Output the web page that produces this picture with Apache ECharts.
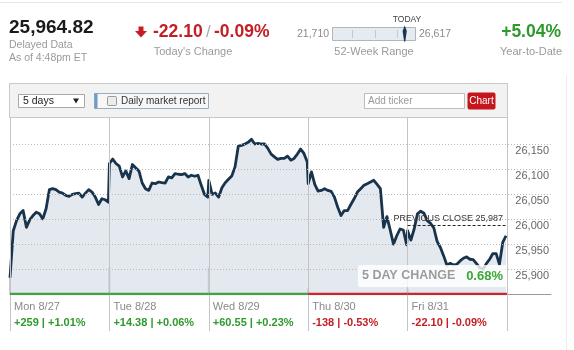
<!DOCTYPE html>
<html><head><meta charset="utf-8">
<script src="https://cdn.jsdelivr.net/npm/echarts@6/dist/echarts.min.js"></script>
<style>html,body{margin:0;padding:0;background:#fff}#c{width:574px;height:350px}</style>
</head><body><div id="c"></div><script>
// ---- data ----
const dayLabels = ['Mon 8/27','Tue 8/28','Wed 8/29','Thu 8/30','Fri 8/31'];
const dayChanges = ['+259 | +1.01%','+14.38 | +0.06%','+60.55 | +0.23%','-138 | -0.53%','-22.10 | -0.09%'];
const dayUp = [true,true,true,false,false];
const monPrices = [25882.5,25976.6,25996.8,26010.3,26016.9,25983.3,25998.2,26006.9,26013.5,26010.3,26000.2,26020.4,26058.7,26060.7,26058.7,26053.8,26051.8,26047.2,26045.2,26049.2,26050.6,26051.8,26043.8,26051.8,26058.7,26053.8,26043.8,26029.0,26040.5,26038.5,26033.7];
const tuePrices = [26111.0,26119.8,26111.0,26105.6,26084.1,26096.2,26080.8,26109.0,26102.3,26096.2,26072.0,26060.6,26057.2,26072.0,26070.7,26074.0,26072.7,26072.0,26084.1,26082.1,26090.8,26089.5,26088.8,26090.8,26084.1,26087.5,26085.5,26087.5,26067.3,26049.2,26043.8];
const wedPrices = [26077.4,26049.2,26051.9,26043.8,26062.6,26072.7,26079.4,26086.1,26104.3,26145.9,26147.3,26150.0,26153.3,26159.4,26150.0,26151.3,26150.0,26150.0,26141.2,26129.8,26124.4,26119.1,26121.1,26121.1,26125.8,26117.7,26121.1,26129.8,26139.9,26131.2,26114.4];
const thuPrices = [26070.7,26094.2,26069.3,26055.9,26057.2,26060.6,26057.2,26055.2,26043.8,26023.6,26006.8,26016.9,26016.9,26029.0,26040.4,26053.9,26060.6,26067.3,26070.7,26074.0,26077.4,26069.3,26060.6,25983.3,26004.8,25978.0,25949.7,25966.5,25980.0,25978.0,25948.4];
const friPrices = [25976.6,25957.8,25980.0,26010.2,26015.6,26011.6,25996.8,25991.4,25982.0,25955.1,25943.0,25926.2,25907.4,25911.4,25908.1,25909.4,25916.1,25921.5,25924.2,25919.5,25918.8,25910.7,25902.7,25899.3,25910.7,25919.5,25930.9,25930.9,25909.4,25953.1,25966.5];
const openVolume = [9,15,15,3,3];
const yTicks = [25900,25950,26000,26050,26100,26150];
const yTickLabels = ['25,900','25,950','26,000','26,050','26,100','26,150'];
const prevClose = 25987;
const prevCloseLabel = 'PREVIOUS CLOSE 25,987';
const lastPrice = '25,964.82';
const todayChange = '-22.10';
const todayPct = '-0.09%';
const weekLow = '21,710', weekHigh = '26,617';
const ytd = '+5.04%';
const fiveDayChange = '0.68%';

// ---- build ----
const days = [monPrices,tuePrices,wedPrices,thuPrices,friPrices];
const pricePoints = [];
days.forEach((arr,i)=>arr.forEach((v,k)=>pricePoints.push([i + k/(arr.length-1)*0.99, v])));
const yMin = 25850, yMax = 26204;
const xMax = days.length * 541/497;
const FF = '"Liberation Sans", Arial, sans-serif';
const dayIdx = dayLabels.map((d,i)=>i);
const bounds = dayIdx.concat([dayLabels.length]);

function T(text,x,y,font,fill,align){
  align = align||'left';
  return {type:'text',x:x,y:y,z:50,silent:true,style:{text:text,font:font+' '+FF,fill:fill,align:align,verticalAlign:'middle',textAlign:align,textVerticalAlign:'middle'}};
}
const graphics = [
  {type:'line',silent:true,shape:{x1:0,y1:2.5,x2:562,y2:2.5},style:{stroke:'#e6e6e6',lineWidth:1}},
  {type:'line',silent:true,shape:{x1:566.5,y1:75,x2:566.5,y2:350},style:{stroke:'#ececec',lineWidth:1}},
  T(lastPrice,9,28,'bold 19px','#1a1a1a'),
  T('Delayed Data',9,45,'10.5px','#9a9a9a'),
  T('As of 4:48pm ET',9,58,'10.5px','#9a9a9a'),
  {type:'polygon',silent:true,shape:{points:[[138.5,26.5],[143.5,26.5],[143.5,31],[147,31],[141,37.5],[135,31],[138.5,31]]},style:{fill:'#c41e24'}},
  {type:'text',x:153,y:32,silent:true,style:{text:'{a|'+todayChange+'} {s|/} {a|'+todayPct+'}',verticalAlign:'middle',textVerticalAlign:'middle',
    rich:{a:{font:'bold 17.5px '+FF,fill:'#c41e24',color:'#c41e24'},s:{font:'17px '+FF,fill:'#aaaaaa',color:'#aaaaaa'}}}},
  T("Today's Change",193,52,'11px','#9a9a9a','center'),
  T(weekLow,297,34,'10.5px','#8a8a8a'),
  {type:'rect',silent:true,shape:{x:332.5,y:27.5,width:83,height:13},style:{fill:'#e6ebf1',stroke:'#aeb7c0',lineWidth:1}},
  {type:'line',silent:true,shape:{x1:352.5,y1:30,x2:352.5,y2:38},style:{stroke:'#c2c9d0'}},
  {type:'line',silent:true,shape:{x1:375.5,y1:30,x2:375.5,y2:38},style:{stroke:'#c2c9d0'}},
  {type:'line',silent:true,shape:{x1:397.5,y1:30,x2:397.5,y2:38},style:{stroke:'#c2c9d0'}},
  {type:'polygon',silent:true,shape:{points:[[404.7,25.5],[406.8,31],[405.3,41.5],[404.1,41.5],[402.6,31]]},style:{fill:'#1b3452'}},
  T('TODAY',407,20,'8.5px','#444','center'),
  T(weekHigh,419,34,'10.5px','#8a8a8a'),
  T('52-Week Range',374,52,'11px','#9a9a9a','center'),
  T(ytd,561,32,'bold 17.5px','#2e9a2e','right'),
  T('Year-to-Date',562,52,'11px','#9a9a9a','right'),
  // toolbar
  {type:'rect',silent:true,shape:{x:9.5,y:83.5,width:498,height:34},style:{fill:'#f2f2f2',stroke:'#c9c9c9',lineWidth:1}},
  {type:'rect',silent:true,shape:{x:18.5,y:94.5,width:66,height:13},style:{fill:'#fff',stroke:'#a9a9a9'}},
  T('5 days',23,101,'10.5px','#222'),
  {type:'polygon',silent:true,shape:{points:[[73,98.5],[79,98.5],[76,103.5]]},style:{fill:'#222'}},
  {type:'rect',silent:true,shape:{x:94.5,y:93.5,width:114,height:15},style:{fill:'#f7f7f7',stroke:'#9cabba'}},
  {type:'rect',silent:true,shape:{x:94.5,y:93.5,width:3,height:15},style:{fill:'#6e9cc4'}},
  {type:'rect',silent:true,shape:{x:107.5,y:96.5,width:9,height:9,r:1},style:{fill:'#ececec',stroke:'#9a9a9a'}},
  T('Daily market report',121,101,'10px','#333'),
  {type:'rect',silent:true,shape:{x:364.5,y:93.5,width:100,height:15},style:{fill:'#fff',stroke:'#bdbdbd'}},
  T('Add ticker',368,101,'10px','#9a9a9a'),
  {type:'rect',silent:true,shape:{x:467.5,y:92.5,width:28,height:17,r:2},style:{fill:'#c4161c'}},
  T('Chart',481.5,101,'10px','#ffffff','center'),
  // five day change box
  {type:'rect',silent:true,z:60,shape:{x:358,y:265,width:149,height:22,r:2},style:{fill:'rgba(255,255,255,0.8)'}},
  Object.assign(T('5 DAY CHANGE',362,276,'bold 12.5px','#9c9c9c'),{z:61}),
  Object.assign(T(fiveDayChange,503,276,'bold 13px','#3aa935','right'),{z:61})
];

const series = [
  {type:'line',data:pricePoints,symbol:'none',silent:true,z:1,lineStyle:{width:0},areaStyle:{color:'#e4e9f0',opacity:1},
   markLine:{silent:true,symbol:'none',label:{show:false},animation:false,
     data: yTicks.map(v=>({yAxis:v,lineStyle:{type:[1,2],color:'#b8b8b8',width:1}}))
       .concat(bounds.map(i=>({xAxis:i,lineStyle:{type:'solid',color:'#c4c4c4',width:1}})))}},
  {type:'bar',yAxisIndex:1,data:openVolume.map((v,i)=>[i,v]),barWidth:2,silent:true,z:2,itemStyle:{color:'#c3cad3'}},
  {type:'line',data:pricePoints,symbol:'none',silent:true,z:3,lineStyle:{color:'#18334c',width:2.8,join:'round'},
   markLine:{silent:true,symbol:'none',animation:false,
     lineStyle:{type:[3,2],color:'#222',width:1},
     label:{show:true,position:'insideEndTop',formatter:prevCloseLabel,color:'#333',fontSize:9,fontFamily:FF,distance:[4,2]},
     data:[[{coord:[days.length-1,prevClose]},{coord:[days.length,prevClose]}]]}}
].concat(dayUp.map((up,i)=>({type:'line',data:[[i,yMin],[i+1,yMin]],symbol:'none',silent:true,z:5,
   lineStyle:{color:up?'#46a046':'#c6282d',width:2.5}})));

const chart = echarts.init(document.getElementById('c'),null,{renderer:'canvas'});
chart.setOption({
  animation:false,
  backgroundColor:'#fff',
  textStyle:{fontFamily:FF},
  grid:{left:10,right:23,top:117,bottom:56},
  xAxis:{type:'value',min:0,max:xMax,interval:1,
    axisLine:{show:true,lineStyle:{color:'#9a9a9a',width:1}},
    axisTick:{show:true,customValues:bounds,length:37,lineStyle:{color:'#c4c4c4'}},
    splitLine:{show:false},
    axisLabel:{customValues:dayIdx,align:'left',margin:5,padding:[0,0,0,4],
      formatter:function(v){const i=Math.round(v); if(i<0||i>=dayLabels.length||Math.abs(v-i)>1e-6) return ''; return '{d|'+dayLabels[i]+'}\n{'+(dayUp[i]?'u':'n')+'|'+dayChanges[i]+'}';},
      rich:{d:{color:'#8a8a8a',fontSize:11,lineHeight:16,fontFamily:FF},
            u:{color:'#2e9a2e',fontSize:11,fontWeight:'bold',lineHeight:16,fontFamily:FF},
            n:{color:'#c41e24',fontSize:11,fontWeight:'bold',lineHeight:16,fontFamily:FF}}}},
  yAxis:[{type:'value',position:'right',min:yMin,max:yMax,interval:50,
    axisLine:{show:false},axisTick:{show:false},splitLine:{show:false},
    axisLabel:{inside:true,customValues:yTicks,margin:2,color:'#666',fontSize:11,fontFamily:FF,verticalAlign:'top',padding:[1,0,0,0],
      formatter:function(v){const i=yTicks.indexOf(v);return i>=0?yTickLabels[i]:'';}}},
    {type:'value',min:0,max:100,show:false}],
  graphic:graphics,
  series:series
});
</script></body></html>
